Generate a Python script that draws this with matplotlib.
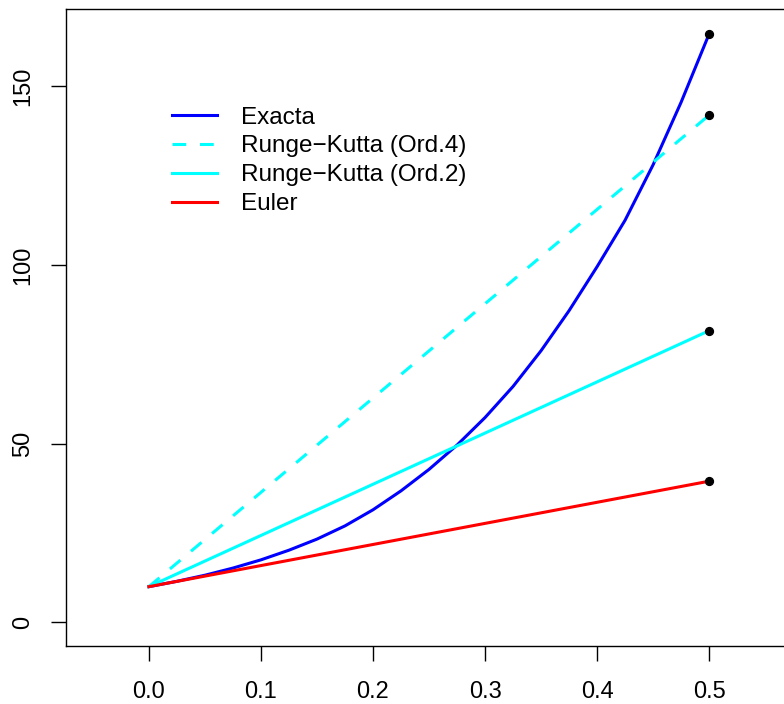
import matplotlib
matplotlib.use("Agg")
import matplotlib.pyplot as plt

plt.rcParams["font.family"] = ["Liberation Sans", "DejaVu Sans"]

# exact solution
t_exact = [0.0, 0.025, 0.05, 0.075, 0.1, 0.125, 0.15, 0.175, 0.2, 0.225, 0.25,
           0.275, 0.3, 0.325, 0.35, 0.375, 0.4, 0.425, 0.45, 0.475, 0.5]
y_exact = [10.0, 11.5, 13.2, 15.2, 17.5, 20.2, 23.3, 27.0, 31.5, 36.8, 42.8,
           49.6, 57.3, 66.0, 76.0, 87.2, 99.5, 112.5, 128.0, 145.5, 164.6]

# one step methods (h = 0.5)
t_step = [0.0, 0.5]
y_rk4 = [10.0, 141.9]
y_rk2 = [10.0, 81.6]
y_euler = [10.0, 39.5]

x_ticks = [0.0, 0.1, 0.2, 0.3, 0.4, 0.5]
y_ticks = [0, 50, 100, 150]

fig = plt.figure(figsize=(7.84, 7.04), dpi=100)
ax = fig.add_axes([66 / 784, 58 / 704, 726 / 784, 637 / 704])

lw = 2.2
ax.plot(t_exact, y_exact, color="blue", lw=lw, label="Exacta",
        solid_joinstyle="round")
ax.plot(t_step, y_rk4, color="cyan", lw=lw, dashes=(4.5, 4.5),
        label="Runge\u2212Kutta (Ord.4)")
ax.plot(t_step, y_rk2, color="cyan", lw=lw, label="Runge\u2212Kutta (Ord.2)")
ax.plot(t_step, y_euler, color="red", lw=lw, label="Euler")
ax.scatter([t_exact[-1], t_step[-1], t_step[-1], t_step[-1]],
           [y_exact[-1], y_rk4[-1], y_rk2[-1], y_euler[-1]],
           color="black", s=32, zorder=5)

ax.set_xlim(-0.074, 0.574)
ax.set_ylim(-6.6, 171.6)
ax.set_xticks(x_ticks, [f"{v:.1f}" for v in x_ticks])
ax.set_yticks(y_ticks, [str(v) for v in y_ticks])
for lab in ax.get_yticklabels():
    lab.set_rotation(90)
    lab.set_va("center")
ax.tick_params(direction="out", length=11, width=1, labelsize=17, colors="black")
ax.tick_params(axis="x", pad=14)
ax.tick_params(axis="y", pad=12)
for spine in ax.spines.values():
    spine.set_linewidth(1)

ax.legend(loc="upper left", bbox_to_anchor=(0.132, 0.862), frameon=False,
          fontsize=17.5, handlelength=1.85, handletextpad=1.0, labelspacing=0.28,
          borderaxespad=0)

fig.savefig("out.png", dpi=100)
plt.close(fig)
